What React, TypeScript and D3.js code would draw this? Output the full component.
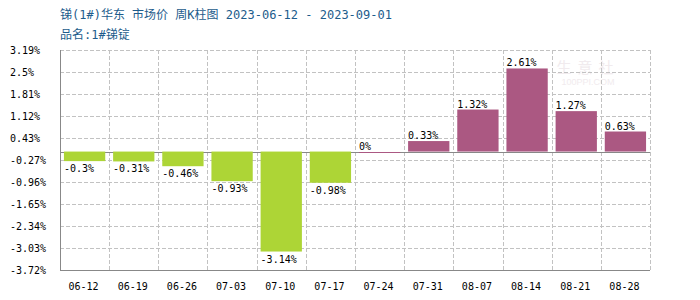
import React from "react";
import * as d3 from "d3";

const categories = ["06-12","06-19","06-26","07-03","07-10","07-17","07-24","07-31","08-07","08-14","08-21","08-28"];
const values = [-0.3,-0.31,-0.46,-0.93,-3.14,-0.98,0,0.33,1.32,2.61,1.27,0.63];
const yTickLabels = ["3.19%","2.5%","1.81%","1.12%","0.43%","-0.27%","-0.96%","-1.65%","-2.34%","-3.03%","-3.72%"];
const yMin = -3.72;
const yMax = 3.19;
const title = "锑(1#)华东 市场价 周K柱图 2023-06-12 - 2023-09-01";
const subtitle = "品名:1#锑锭";

const W = 700, H = 300;
const M = { left: 60, right: 50, top: 50, bottom: 30 };
const GREEN = "#ADD536";
const PURPLE = "#AB5882";
const FONT = "'DejaVu Sans Mono', 'Liberation Mono', monospace";
const CJK = "'DejaVu Sans Mono', 'Noto Sans CJK SC', sans-serif";

export default function App() {
  const x = d3.scaleBand<string>().domain(categories).range([M.left, W - M.right]).paddingInner(0.16).paddingOuter(0.08);
  const xs = d3.scaleBand<string>().domain(categories).range([M.left, W - M.right]);
  const y = d3.scaleLinear().domain([yMin, yMax]).range([H - M.bottom, M.top]);
  const tickVals = yTickLabels.map((_, i) => yMax - (i * (yMax - yMin)) / (yTickLabels.length - 1));
  const y0 = y(0);
  return (
    <div style={{ position: "absolute", left: 0, top: 0 }}>
      <svg width={W} height={H} style={{ display: "block", background: "#fff" }}>
        <text x={60} y={19} fontFamily={CJK} fontSize={12} fill="#1D5C8C">{title}</text>
        <text x={60} y={39} fontFamily={CJK} fontSize={12} fill="#1D5C8C">{subtitle}</text>
        {/* watermark */}
        <text x={588} y={73} fontFamily="'Noto Sans CJK SC', sans-serif" fontSize={15} fill="#F1EBEE" textAnchor="middle" letterSpacing={6}>生意社</text>
        <text x={588} y={85} fontFamily="Arial, 'Liberation Sans', sans-serif" fontSize={9} fill="#F1EBEE" textAnchor="middle">100PPI.COM</text>
        {/* horizontal grid */}
        {tickVals.map((v, i) => (
          <line key={"h" + i} x1={M.left} x2={W - M.right} y1={Math.round(y(v)) + 0.5} y2={Math.round(y(v)) + 0.5} stroke="#C2C2C2" strokeDasharray="4,2" />
        ))}
        {/* vertical grid */}
        {categories.map((c, i) => (
          <line key={"v" + i} x1={Math.round(xs(c)! + xs.bandwidth()) + 0.5} x2={Math.round(xs(c)! + xs.bandwidth()) + 0.5} y1={M.top} y2={H - M.bottom} stroke="#C2C2C2" strokeDasharray="4,2" />
        ))}
        {/* y tick labels */}
        {tickVals.map((v, i) => (
          <text key={"t" + i} x={10} y={y(v) + 4} fontFamily={FONT} fontSize={10} fill="#000">{yTickLabels[i]}</text>
        ))}
        {/* zero line */}
        <line x1={M.left} x2={W - M.right} y1={Math.round(y0) + 0.5} y2={Math.round(y0) + 0.5} stroke="#888" />
        {/* bars */}
        {categories.map((c, i) => {
          const v = values[i];
          const bx = x(c)!;
          const top = v >= 0 ? y(v) : y0;
          const h = Math.max(1, Math.abs(y(v) - y0));
          const color = v >= 0 ? PURPLE : GREEN;
          return (
            <g key={"b" + i}>
              <rect x={bx} y={v === 0 ? Math.round(y0) : top} width={x.bandwidth()} height={h} fill={color} />
              <text x={bx} y={v >= 0 ? y(v) - 2 : y(v) + 11} fontFamily={FONT} fontSize={10} fill="#000">{v + "%"}</text>
            </g>
          );
        })}
        {/* axes */}
        <line x1={M.left + 0.5} x2={M.left + 0.5} y1={M.top} y2={H - M.bottom} stroke="#888" />
        <line x1={M.left} x2={W - M.right} y1={H - M.bottom + 0.5} y2={H - M.bottom + 0.5} stroke="#888" />
        {/* x labels */}
        {categories.map((c, i) => (
          <text key={"x" + i} x={xs(c)! + xs.bandwidth() / 2 - 1} y={290} textAnchor="middle" fontFamily={FONT} fontSize={10} fill="#000">{c}</text>
        ))}
      </svg>
    </div>
  );
}
